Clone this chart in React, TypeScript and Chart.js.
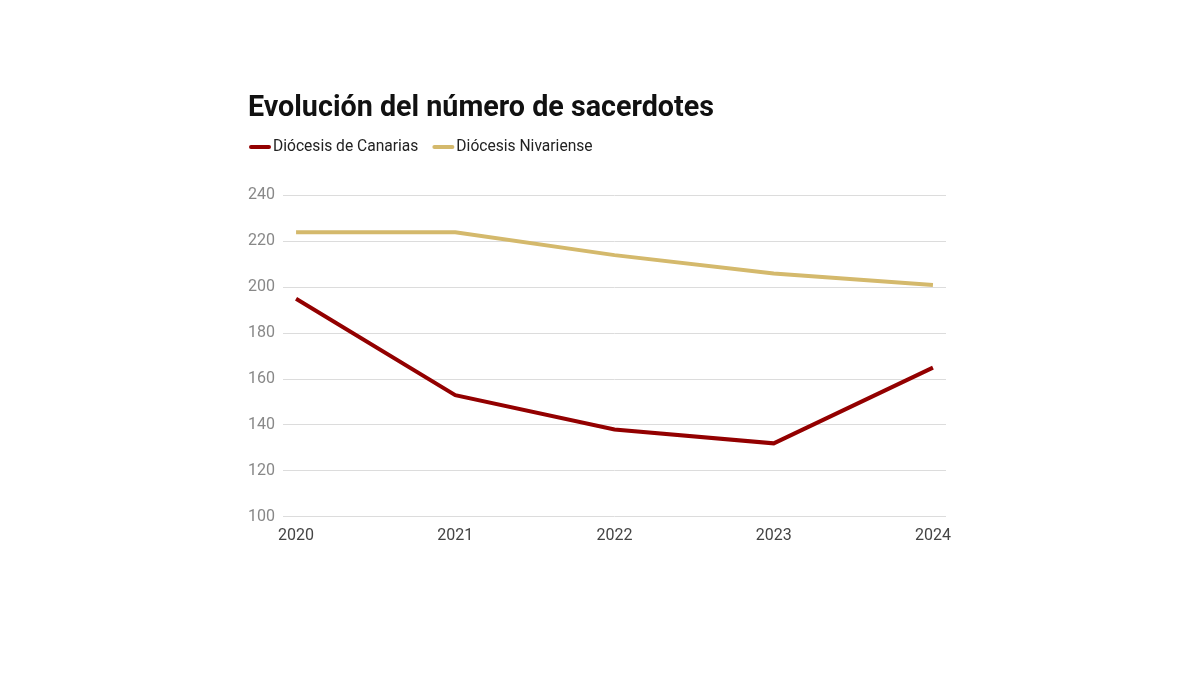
import React, { useEffect, useRef } from "react";
import { Chart, registerables } from "chart.js";

Chart.register(...registerables);

const years = [2020, 2021, 2022, 2023, 2024];
const canarias = [195, 153, 138, 132, 165];
const nivariense = [224, 224, 214, 206, 201];
const yTicks = [100, 120, 140, 160, 180, 200, 220, 240];

const seriesLegend = {
  id: "seriesLegend",
  afterDraw(chart: any) {
    const ctx = chart.ctx;
    ctx.save();
    ctx.font = "15.6px Roboto";
    ctx.textBaseline = "middle";
    ctx.textAlign = "left";
    let x = 249;
    const y = 147;
    chart.data.datasets.forEach((ds: any) => {
      ctx.strokeStyle = ds.borderColor;
      ctx.lineWidth = 4;
      ctx.lineCap = "round";
      ctx.beginPath();
      ctx.moveTo(x + 2, y);
      ctx.lineTo(x + 20, y);
      ctx.stroke();
      ctx.fillStyle = "#222";
      ctx.fillText(ds.label, x + 24, y);
      x += 24 + ctx.measureText(ds.label).width + 14;
    });
    ctx.restore();
  },
};

export default function App() {
  const ref = useRef<HTMLCanvasElement | null>(null);
  useEffect(() => {
    document.body.style.margin = "0";
    const ctx = ref.current!;
    const chart = new Chart(ctx, {
      type: "line",
      data: {
        datasets: [
          {
            label: "Diócesis de Canarias",
            data: years.map((y, i) => ({ x: y, y: canarias[i] })),
            borderColor: "#930000",
            backgroundColor: "#930000",
            borderWidth: 4,
            pointRadius: 0,
            tension: 0,
          },
          {
            label: "Diócesis Nivariense",
            data: years.map((y, i) => ({ x: y, y: nivariense[i] })),
            borderColor: "#d4b96c",
            backgroundColor: "#d4b96c",
            borderWidth: 4,
            pointRadius: 0,
            tension: 0,
          },
        ],
      },
      options: {
        animation: false,
        responsive: false,
        layout: { padding: { left: 248, right: 254, top: 82, bottom: 127 } },
        plugins: {
          title: {
            display: true,
            text: "Evolución del número de sacerdotes",
            align: "start",
            color: "#111",
            font: { family: "Roboto", size: 28.7, weight: "bold" },
            padding: { top: 10, bottom: 69 },
          },
          legend: { display: false },
          tooltip: { enabled: false },
        },
        scales: {
          x: {
            type: "linear",
            min: 2019.918,
            max: 2024.082,
            afterBuildTicks: (axis: any) => {
              axis.ticks = years.map((v) => ({ value: v }));
            },
            afterFit: (scale: any) => {
              scale.paddingLeft = 0;
              scale.paddingRight = 0;
            },
            grid: { display: false },
            border: { display: false },
            ticks: {
              color: "#444",
              font: { family: "Roboto", size: 16 },
              padding: 2,
              maxRotation: 0,
              callback: (v: any) => String(v),
            },
          },
          y: {
            min: 100,
            max: 240,
            afterBuildTicks: (axis: any) => {
              axis.ticks = yTicks.map((v) => ({ value: v }));
            },
            afterFit: (scale: any) => {
              scale.width = 35;
            },
            grid: { color: "#dcdcdc", drawTicks: false, lineWidth: 1 },
            border: { display: false },
            ticks: {
              color: "#888",
              font: { family: "Roboto", size: 16 },
              padding: 8,
              callback: (v: any) => String(v),
            },
          },
        },
      },
      plugins: [seriesLegend],
    } as any);
    return () => chart.destroy();
  }, []);
  return (
    <div style={{ width: 1200, height: 675, background: "#fff" }}>
      <canvas ref={ref} width={1200} height={675} style={{ display: "block" }} />
    </div>
  );
}
